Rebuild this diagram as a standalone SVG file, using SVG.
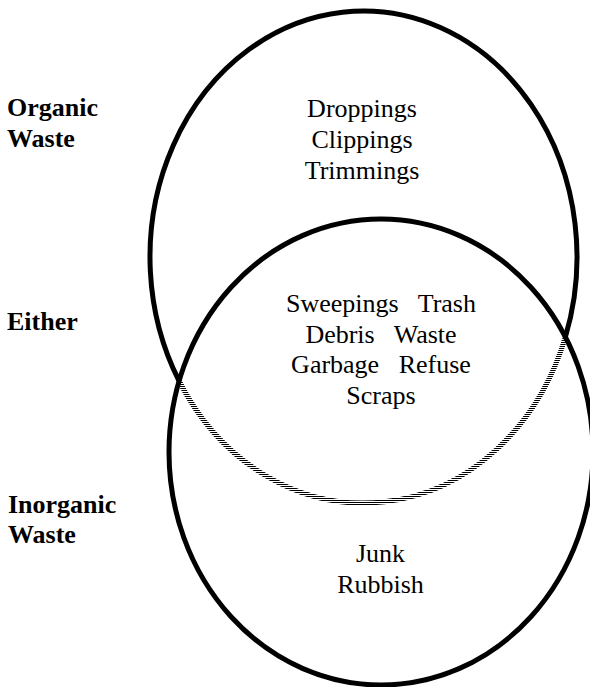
<svg xmlns="http://www.w3.org/2000/svg" width="590" height="687" viewBox="0 0 590 687">
<style>
.ln{fill:none;stroke:#000;stroke-width:5}
.t{font-family:"Liberation Serif","Times New Roman",serif;font-size:26px;fill:#000;text-anchor:middle}
.lb{font-family:"Liberation Serif","Times New Roman",serif;font-size:26px;font-weight:bold;fill:#000}
</style>
<defs>
<pattern id="hatch" patternUnits="userSpaceOnUse" width="4" height="2">
<rect x="0" y="0" width="4" height="1" fill="#000"/>
</pattern>
</defs>
<rect width="590" height="687" fill="#fff"/>
<g id="organic">
<path class="ln" d="M 565.4 337 A 213.5 246 0 1 0 179.1 381"/>
<path fill="none" stroke="url(#hatch)" stroke-width="5" d="M 179.1 381 A 213.5 246 0 0 0 565.4 337"/>
<text class="t" x="362" y="117">Droppings</text>
<text class="t" x="362" y="148">Clippings</text>
<text class="t" x="362" y="179">Trimmings</text>
</g>
<g id="inorganic">
<ellipse class="ln" cx="381" cy="452" rx="212" ry="233"/>
<text class="t" x="380.5" y="562">Junk</text>
<text class="t" x="380.5" y="593">Rubbish</text>
</g>
<g id="either">
<text class="t" x="381" y="312" xml:space="preserve" style="white-space:pre">Sweepings   Trash</text>
<text class="t" x="381" y="343" xml:space="preserve" style="white-space:pre">Debris   Waste</text>
<text class="t" x="381" y="373" xml:space="preserve" style="white-space:pre">Garbage   Refuse</text>
<text class="t" x="381" y="404">Scraps</text>
</g>
<g id="label-organic">
<text class="lb" x="7" y="116">Organic</text>
<text class="lb" x="7" y="146.5">Waste</text>
</g>
<g id="label-either">
<text class="lb" x="7" y="330">Either</text>
</g>
<g id="label-inorganic">
<text class="lb" x="8" y="513">Inorganic</text>
<text class="lb" x="8" y="543">Waste</text>
</g>
<g id="connectors"/>
</svg>
